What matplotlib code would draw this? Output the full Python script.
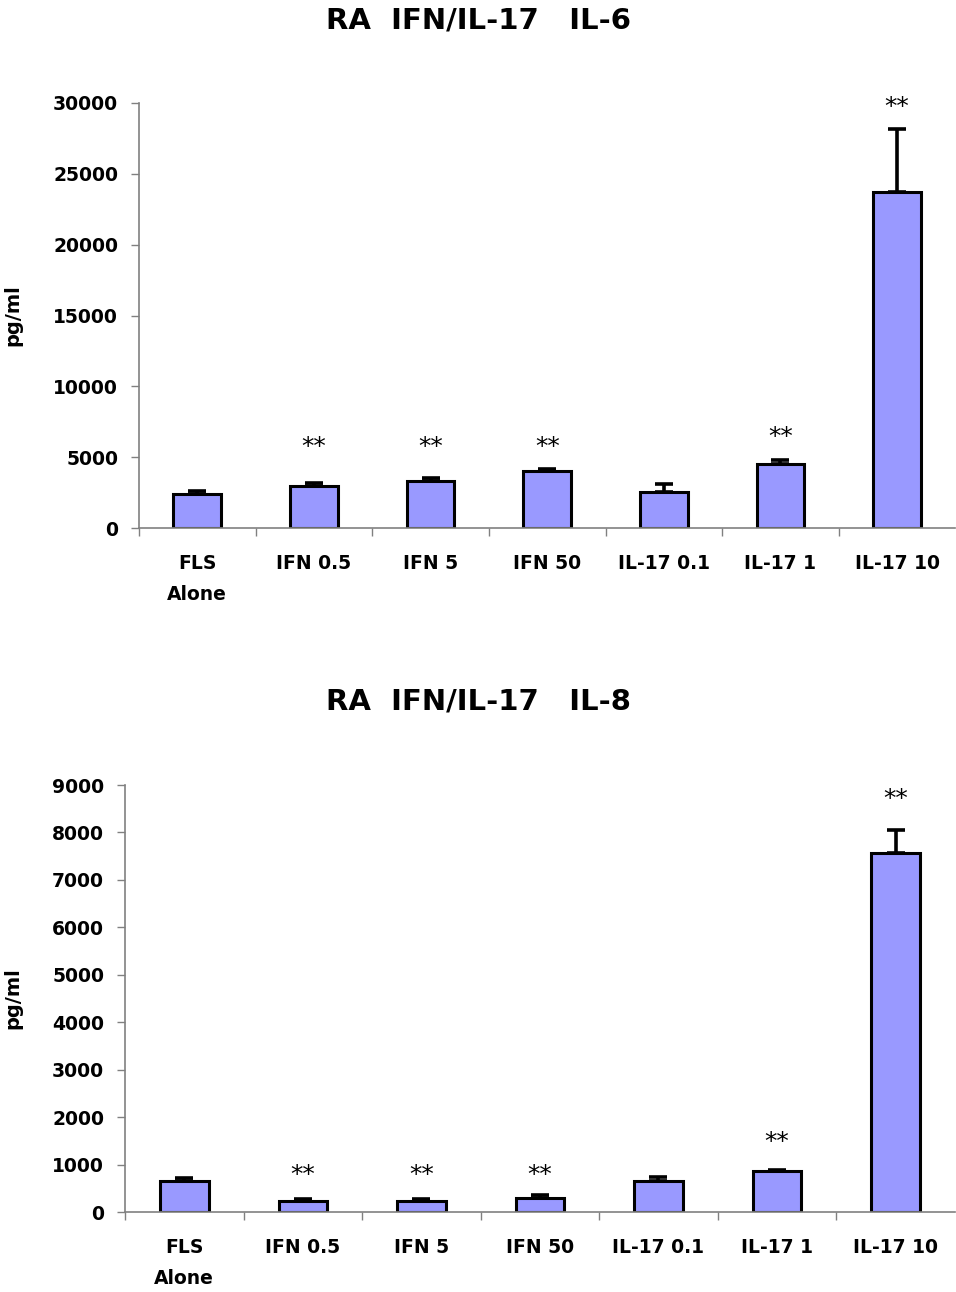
import matplotlib.pyplot as plt
import numpy as np

plt.rcParams['font.family'] = ['DejaVu Sans']
plt.rcParams['font.weight'] = 'bold'

categories = ['FLS\nAlone', 'IFN 0.5', 'IFN 5', 'IFN 50', 'IL-17 0.1', 'IL-17 1', 'IL-17 10']

il6_mean = [2400, 3000, 3350, 4050, 2550, 4550, 23700]
il6_err = [200, 170, 180, 150, 550, 250, 4450]
il6_stars = ['', '**', '**', '**', '', '**', '**']
il6_star_y = [0, 5700, 5700, 5700, 0, 6450, 29750]

il8_mean = [660, 232, 232, 300, 660, 870, 7570]
il8_err = [60, 45, 45, 50, 80, 20, 490]
il8_stars = ['', '**', '**', '**', '', '**', '**']
il8_star_y = [0, 790, 790, 790, 0, 1470, 8700]

bar_color = '#9999FF'
axis_gray = '#808080'

fig = plt.figure(figsize=(9.56, 12.92), dpi=100)


def draw_panel(rect, means, errs, stars, star_y, ymax, ystep, title, title_y, ylabel_x):
    ax = fig.add_axes(rect)
    x = np.arange(len(categories))
    ax.bar(x, means, width=0.41, color=bar_color, edgecolor='black', linewidth=2.2, zorder=2)
    ax.errorbar(x, means, yerr=[np.zeros(len(errs)), errs], fmt='none', ecolor='black',
                elinewidth=2.6, capsize=6.5, capthick=2.6, zorder=3)
    for xi, s, sy in zip(x, stars, star_y):
        if s:
            ax.text(xi, sy, s, ha='center', va='center', fontsize=18, fontweight='normal')
    ax.set_xlim(-0.5, len(categories) - 0.5)
    ax.set_ylim(0, ymax)
    ax.set_yticks(np.arange(0, ymax + 1, ystep))
    ax.tick_params(axis='y', direction='out', length=6, width=1, color=axis_gray,
                   labelsize=13.5, pad=9)
    for lab in ax.get_yticklabels():
        lab.set_fontweight('bold')
    ax.set_xticks(np.arange(-0.5, len(categories) - 0.5, 1.0))
    ax.set_xticklabels([])
    ax.set_xticks(x, minor=True)
    ax.set_xticklabels(categories, minor=True, fontsize=13.5, fontweight='bold', linespacing=1.75)
    ax.tick_params(axis='x', which='major', direction='out', length=6, width=1, color=axis_gray)
    ax.tick_params(axis='x', which='minor', length=0, pad=19)
    for side in ['top', 'right']:
        ax.spines[side].set_visible(False)
    for side in ['left', 'bottom']:
        ax.spines[side].set_color(axis_gray)
        ax.spines[side].set_linewidth(1.2)
    ax.set_ylabel('pg/ml', fontsize=14, fontweight='bold')
    ax.yaxis.set_label_coords(ylabel_x, 0.5)
    fig.text(0.5, title_y, title, ha='center', va='center', fontsize=21, fontweight='bold')
    return ax


draw_panel([0.1454, 0.5913, 0.854, 0.3290], il6_mean, il6_err, il6_stars, il6_star_y,
           30000, 5000, 'RA  IFN/IL-17   IL-6', 0.9845, -0.143)
draw_panel([0.1308, 0.0619, 0.868, 0.3305], il8_mean, il8_err, il8_stars, il8_star_y,
           9000, 1000, 'RA  IFN/IL-17   IL-8', 0.4567, -0.124)

fig.savefig('out.png', dpi=100)
